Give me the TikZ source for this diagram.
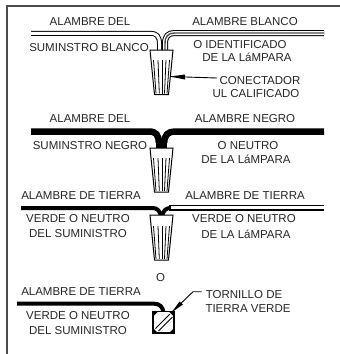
\documentclass[tikz,border=0pt]{standalone}
\usepackage{fontspec}
\setmainfont{Liberation Sans}
\tikzset{
  x=1pt,y=-1pt,
  lbl/.style={inner sep=0pt,font=\fontsize{11.5}{13}\selectfont,text=black!85},
  frameln/.style={draw=black!70,line width=2pt},
  wirew/.style={draw=black,line width=5pt},
  wirei/.style={draw=white,line width=3pt},
  wirer/.style={draw=black,line width=6pt},
  wireq/.style={draw=white,line width=4pt},
  wirec/.style={draw=black!70,line width=1.4pt},
  wireb/.style={draw=black,line width=6.5pt},
  wiret/.style={draw=black,line width=4pt},
  cone/.style={draw=black,fill=white,line width=1pt},
  rib/.style={draw=black,line width=.8pt},
  lead/.style={draw=black,line width=.9pt}
}
\newcommand{\conector}[4]{% x, top y, bottom y, rib top
  \draw[cone] (#1-11.5,#2) -- (#1+11.5,#2) -- (#1+7,#3) -- (#1-7,#3) -- cycle;
  \draw[rib] (#1-8,#4) -- (#1-5.5,#3-1);
  \draw[rib] (#1-3.5,#4) -- (#1-2.2,#3-1);
  \draw[rib] (#1+0.5,#4) -- (#1+0.5,#3-1);
  \draw[rib] (#1+4.5,#4) -- (#1+3,#3-1);
  \draw[rib] (#1+8,#4) -- (#1+5.5,#3-1);
}
\begin{document}
\begin{tikzpicture}
\useasboundingbox (0,0) rectangle (340,354);
\fill[white] (0,0) rectangle (340,354);
\draw[frameln] (7,354) -- (7,6) -- (340,6);
% panel 1
\coordinate (a1) at (31,33.3); \coordinate (b1) at (324,33);
\def\pa{(a1) -- (150,33.3) .. controls (156.5,33.3) and (159.5,36) .. (159.5,44) -- (159.5,52)}
\def\pb{(b1) -- (175,33) .. controls (168,33) and (165,36) .. (165,44) -- (165,52)}
\draw[wirew] \pa;
\draw[wirei] \pa;
\draw[wirer] \pb;
\draw[wireq] \pb;
\draw[wirec] \pb;
\conector{161.5}{50}{94.5}{60}
\coordinate (c1) at (217,78);
\coordinate (c1t) at (170,76.5);
\draw[lead] (c1) -- (c1t);
\fill (c1t) -- (185,74.5) -- (185,79.5) -- cycle;
\node[lbl] (t1) at (90,22) {ALAMBRE DEL};
\node[lbl] (t2) at (245,22) {ALAMBRE BLANCO};
\node[lbl] (t3) at (89,48) {SUMINSTRO BLANCO};
\node[lbl] (t4) at (240,44.5) {O IDENTIFICADO};
\node[lbl] (t5) at (247,57) {DE LA LáMPARA};
\node[lbl] (t6) at (260,80.5) {CONECTADOR};
\node[lbl] (t7) at (256,94) {UL CALIFICADO};
% panel 2
\coordinate (a2) at (31,131.5); \coordinate (b2) at (324,131.5);
\draw[wireb] (a2) -- (149,131.5) .. controls (156,131.5) and (158.8,135) .. (158.8,143);
\draw[wireb] (b2) -- (175,131.5) .. controls (168,131.5) and (164.2,135) .. (164.2,143);
\fill[black] (156,140) rectangle (167,149);
\conector{161.5}{148}{192}{158}
\node[lbl] (t8) at (90,119) {ALAMBRE DEL};
\node[lbl] (t9) at (245,119) {ALAMBRE NEGRO};
\node[lbl] (t10) at (90,145.7) {SUMINSTRO NEGRO};
\node[lbl] (t11) at (248,145.7) {O NEUTRO};
\node[lbl] (t12) at (246,159) {DE LA LáMPARA};
% panel 3
\coordinate (a3) at (21,208); \coordinate (b3) at (324,207.5);
\draw[wiret] (a3) -- (153,208) .. controls (157,208) and (160,211) .. (161,216);
\draw[wiret] (170,208) .. controls (166,208) and (163,211) .. (162,216);
\draw[draw=black,line width=6pt] (b3) -- (169,207.5);
\draw[draw=white,line width=3.6pt] (b3) -- (170.5,207.5);
\conector{161.5}{215}{260}{226}
\node[lbl] (t13) at (81,195.7) {ALAMBRE DE TIERRA};
\node[lbl] (t14) at (245,195.7) {ALAMBRE DE TIERRA};
\node[lbl] (t15) at (78,219) {VERDE O NEUTRO};
\node[lbl] (t16) at (78,234) {DEL SUMINISTRO};
\node[lbl] (t17) at (244,219) {VERDE O NEUTRO};
\node[lbl] (t18) at (246,234) {DE LA LáMPARA};
\node[lbl] (t19) at (160.5,277.7) {O};
% panel 4
\coordinate (a4) at (17,303.7); \coordinate (e4) at (163.5,312);
\draw[wiret] (a4) -- (154,303.7) .. controls (160,303.7) and (162.5,307) .. (e4);
\draw[draw=black,fill=white,line width=1.2pt] (153,311.5) rectangle (174,333);
\fill[black] (153,311.5) -- (158,311.5) -- (153,316.5) -- cycle;
\fill[black] (174,311.5) -- (169,311.5) -- (174,316.5) -- cycle;
\fill[black] (153,333) -- (158,333) -- (153,328) -- cycle;
\fill[black] (174,333) -- (169,333) -- (174,328) -- cycle;
\draw[draw=black,line width=1pt] (155.5,328.5) -- (170,314);
\draw[draw=black,line width=1pt] (158.5,331) -- (172.5,317);
\coordinate (l4) at (201.5,291.7); \coordinate (l4b) at (193,291.7); \coordinate (l4t) at (172,312);
\draw[lead] (l4) -- (l4b) -- (l4t);
\fill (l4t) -- (179.5,301.5) -- (183,304.5) -- cycle;
\node[lbl] (t20) at (81,292) {ALAMBRE DE TIERRA};
\node[lbl] (t21) at (78,316) {VERDE O NEUTRO};
\node[lbl] (t22) at (78,330.7) {DEL SUMINISTRO};
\node[lbl] (t23) at (244,295) {TORNILLO DE};
\node[lbl] (t24) at (248,308.7) {TIERRA VERDE};
\end{tikzpicture}
\end{document}
